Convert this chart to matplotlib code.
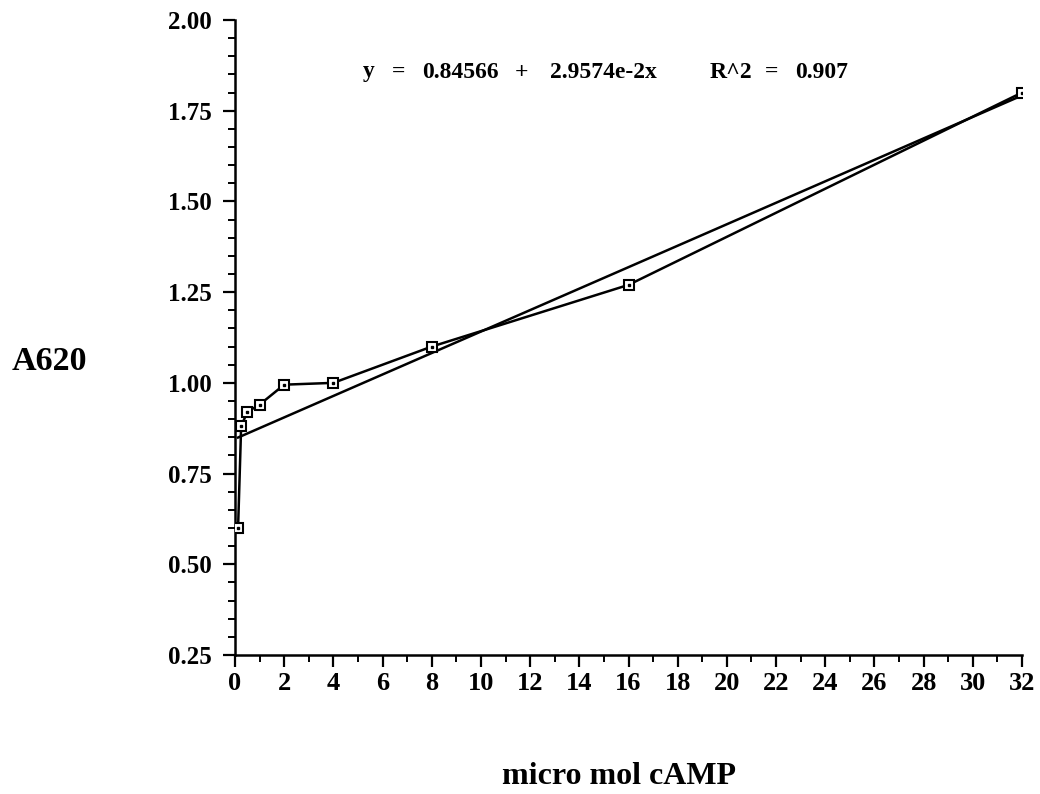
import numpy as np
import matplotlib.pyplot as plt
from matplotlib.ticker import MultipleLocator, FixedLocator

# cAMP standard curve
camp = [0.125, 0.25, 0.5, 1, 2, 4, 8, 16, 32]
a620 = [0.60, 0.88, 0.92, 0.94, 0.995, 1.00, 1.10, 1.27, 1.80]

fit_b0 = 0.84566
fit_b1 = 2.9574e-2
fit_r2 = 0.907

x_ticks = list(range(0, 33, 2))
y_ticks = [0.25, 0.50, 0.75, 1.00, 1.25, 1.50, 1.75, 2.00]

W, H = 1040, 794

plt.rcParams.update({
    "font.family": "Liberation Serif",
    "font.weight": "bold",
})

fig = plt.figure(figsize=(W / 100, H / 100), dpi=100)
ax = fig.add_axes([235 / W, 1 - 655 / H, (1022 - 235) / W, (655 - 20) / H])

xs = np.array([camp[0], camp[-1]])
ax.plot(xs, fit_b0 + fit_b1 * xs, color="black", lw=1.8, zorder=2)
ax.plot(camp, a620, color="black", lw=1.8, marker="s", markersize=7.5,
        markerfacecolor="white", markeredgecolor="black", markeredgewidth=1.5, zorder=3)
ax.plot(camp, a620, ls="none", marker="s", markersize=1.8, color="black", zorder=4)

ax.set_xlim(0, 32)
ax.set_ylim(0.25, 2.00)
ax.xaxis.set_major_locator(FixedLocator(x_ticks))
ax.xaxis.set_minor_locator(MultipleLocator(1))
ax.yaxis.set_major_locator(FixedLocator(y_ticks))
ax.yaxis.set_minor_locator(MultipleLocator(0.05))
ax.set_xticklabels([str(t) for t in x_ticks])
ax.set_yticklabels([f"{t:.2f}" for t in y_ticks])

for s in ("top", "right"):
    ax.spines[s].set_visible(False)
for s in ("left", "bottom"):
    ax.spines[s].set_linewidth(1.8)

ax.tick_params(which="major", direction="out", length=8.5, width=1.6)
ax.tick_params(which="minor", direction="out", length=5, width=1.4)
ax.tick_params(axis="y", which="major", labelsize=18, pad=8)
ax.tick_params(axis="x", which="major", labelsize=19, pad=4)

# regression equation, pieces placed as in the original print-out
eq_parts = [
    (363, "y"), (392, "="), (422, f"{fit_b0}"), (515, "+"), (550, "2.9574e-2x"),
    (710, "R^2"), (765, "="), (795, f"{fit_r2}"),
]
for px, txt in eq_parts:
    fig.text(px / W, 1 - 72 / H, txt, fontsize=17, fontweight="bold",
             ha="left", va="center")

fig.text(49 / W, 1 - 361 / H, "A620", fontsize=24.5, fontweight="bold",
         ha="center", va="center")
fig.text(619 / W, 1 - 777 / H, "micro mol cAMP", fontsize=23, fontweight="bold",
         ha="center", va="center")

fig.savefig("out.png", dpi=100, facecolor="white")
